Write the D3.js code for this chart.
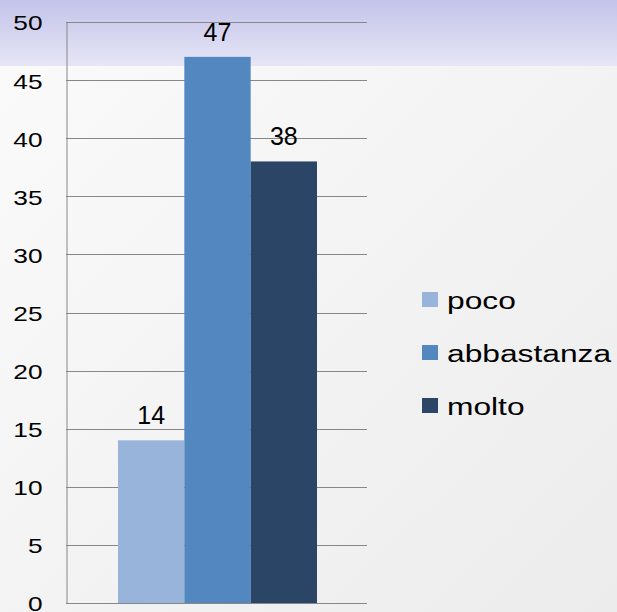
<!DOCTYPE html>
<html lang="it">
<head>
<meta charset="UTF-8">
<title>poco / abbastanza / molto</title>
<script src="https://d3js.org/d3.v7.min.js"></script>
<style>
  html, body { margin: 0; padding: 0; }
  body { width: 617px; height: 612px; overflow: hidden; }
  text { font-family: "Liberation Sans", Arial, sans-serif; fill: #000; }
</style>
</head>
<body>
<svg id="chart" width="617" height="612"></svg>
<script>
// data
var categories = ["poco", "abbastanza", "molto"];
var values = [14, 47, 38];
var colors = ["#98b4da", "#5287c0", "#2a4566"];
var yTicks = [0, 5, 10, 15, 20, 25, 30, 35, 40, 45, 50];

var W = 617, H = 612;
var margin = {top: 22, left: 66, bottomY: 603, right: 367};

var svg = d3.select("#chart");
var defs = svg.append("defs");

// background: light diagonal gradient + bluish band at top
var bg = defs.append("linearGradient").attr("id", "bg")
    .attr("x1", "0").attr("y1", "0").attr("x2", "1").attr("y2", "1");
bg.append("stop").attr("offset", "0%").attr("stop-color", "#fbfbfb");
bg.append("stop").attr("offset", "100%").attr("stop-color", "#ececec");

var band = defs.append("linearGradient").attr("id", "band")
    .attr("x1", "0").attr("y1", "0").attr("x2", "0").attr("y2", "1");
band.append("stop").attr("offset", "0%").attr("stop-color", "#c3c3ea");
band.append("stop").attr("offset", "100%").attr("stop-color", "#e6e6f6");

svg.append("rect").attr("width", W).attr("height", H).attr("fill", "url(#bg)");
svg.append("rect").attr("width", W).attr("height", 66).attr("fill", "url(#band)");

// scales
var y = d3.scaleLinear().domain([0, 50]).range([margin.bottomY, margin.top]);
var x = d3.scaleBand().domain(categories).range([118, 317]).padding(0);

// gridlines
svg.append("g").selectAll("line")
    .data(yTicks)
    .enter().append("line")
    .attr("x1", margin.left).attr("x2", margin.right)
    .attr("y1", function(d) { return Math.round(y(d)) + 0.5; })
    .attr("y2", function(d) { return Math.round(y(d)) + 0.5; })
    .attr("stroke", "#878787").attr("stroke-width", 1);

// y axis (labels drawn a bit wider than normal, like the original)
var stretch = 1.25;
var yAxis = svg.append("g")
    .attr("transform", "translate(" + (margin.left + 0.5) + ",0)")
    .call(d3.axisLeft(y).tickValues(yTicks).tickSize(0).tickPadding(24));
yAxis.select(".domain").attr("stroke", "#878787");
yAxis.selectAll("text")
    .style("font-size", "21px")
    .attr("font-family", "Liberation Sans, Arial, sans-serif")
    .attr("fill", "#000")
    .attr("x", -24 / stretch)
    .attr("dy", "0.38em")
    .attr("transform", "scale(" + stretch + ",1)");

// bars
svg.append("g").selectAll("rect")
    .data(values)
    .enter().append("rect")
    .attr("x", function(d, i) { return x(categories[i]); })
    .attr("y", function(d) { return y(d); })
    .attr("width", x.bandwidth())
    .attr("height", function(d) { return y(0) - y(d); })
    .attr("fill", function(d, i) { return colors[i]; });

// value labels
svg.append("g").selectAll("text")
    .data(values)
    .enter().append("text")
    .attr("x", function(d, i) { return x(categories[i]) + x.bandwidth() / 2; })
    .attr("y", function(d) { return y(d) - 16; })
    .attr("text-anchor", "middle")
    .style("font-size", "25px")
    .text(function(d) { return d; });

// legend
var legend = svg.append("g").selectAll("g")
    .data(categories)
    .enter().append("g")
    .attr("transform", function(d, i) { return "translate(422," + (309 + i * 53) + ")"; });

legend.append("rect")
    .attr("x", 0).attr("y", -17)
    .attr("width", 16).attr("height", 15)
    .attr("fill", function(d, i) { return colors[i]; });

legend.append("text")
    .attr("transform", "translate(25,0) scale(1.38,1)")
    .style("font-size", "23px")
    .text(function(d) { return d; });
</script>
</body>
</html>
